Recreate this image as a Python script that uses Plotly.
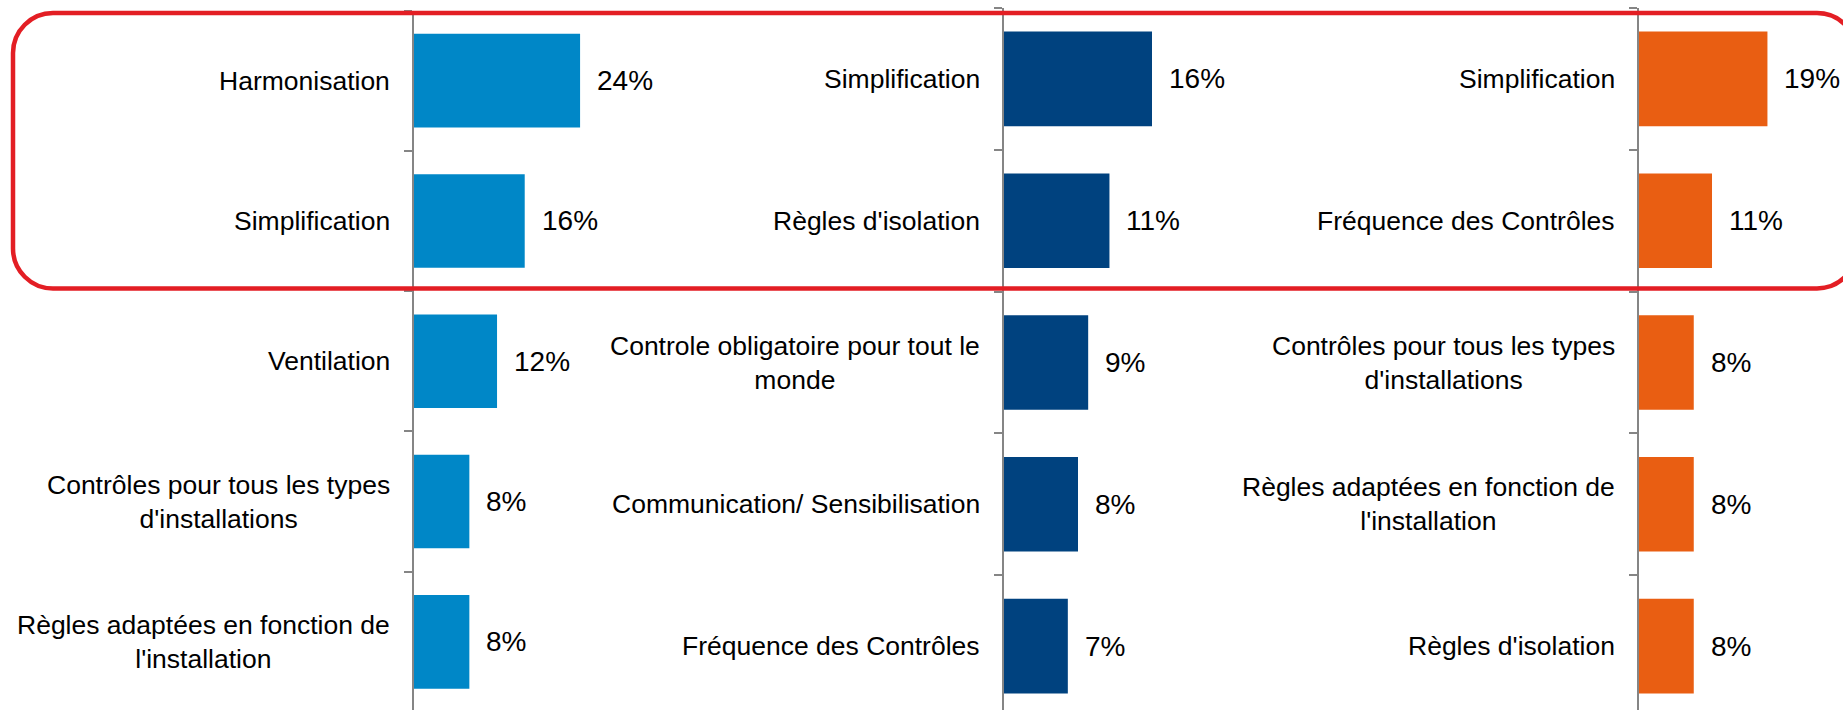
import plotly.graph_objects as go

W, H = 1843, 710

# ---------------- data ----------------
cats1 = ["Harmonisation", "Simplification", "Ventilation",
         "Contrôles pour tous les types<br>d'installations",
         "Règles adaptées en fonction de<br>l'installation"]
vals1 = [24, 16, 12, 8, 8]

cats2 = ["Simplification", "Règles d'isolation",
         "Controle obligatoire pour tout le<br>monde",
         "Communication/ Sensibilisation", "Fréquence des Contrôles"]
vals2 = [16.0, 11.4, 9.1, 8.0, 6.9]

cats3 = ["Simplification", "Fréquence des Contrôles",
         "Contrôles pour tous les types<br>d'installations",
         "Règles adaptées en fonction de<br>l'installation",
         "Règles d'isolation"]
vals3 = [19.0, 10.8, 8.1, 8.1, 8.1]

colors = ["#0087C7", "#00427F", "#E95E12"]

# ---------------- layout geometry (pixels) ----------------
# zero-line x, px per unit, right edge of domain, top of axis, band height
panels = [
    dict(cats=cats1, vals=vals1, color=colors[0], x0=414, scale=6.92, right=700, top=10.5, band=140.3),
    dict(cats=cats2, vals=vals2, color=colors[1], x0=1004, scale=9.25, right=1300, top=8.0, band=141.8),
    dict(cats=cats3, vals=vals3, color=colors[2], x0=1639, scale=6.76, right=1843, top=8.0, band=141.8),
]

FONT = "Liberation Sans, Arial, sans-serif"
GRAY = "#858585"

fig = go.Figure()
annotations = []
for i, p in enumerate(panels, start=1):
    xa = "x" if i == 1 else f"x{i}"
    ya = "y" if i == 1 else f"y{i}"
    fig.add_trace(go.Bar(
        x=p["vals"], y=p["cats"], orientation="h", width=0.667,
        marker=dict(color=p["color"], line=dict(width=0)),
        xaxis=xa, yaxis=ya, hoverinfo="skip", showlegend=False,
    ))
    xkey = "xaxis" if i == 1 else f"xaxis{i}"
    ykey = "yaxis" if i == 1 else f"yaxis{i}"
    vis = (H - p["top"]) / p["band"]
    fig.update_layout(**{
        xkey: dict(domain=[p["x0"] / W, p["right"] / W],
                   range=[0, (p["right"] - p["x0"]) / p["scale"]],
                   visible=False, anchor=ya, fixedrange=True),
        ykey: dict(domain=[0, 1 - p["top"] / H], anchor=xa,
                   type="category", categoryorder="array", categoryarray=p["cats"],
                   range=[-0.5 + vis, -0.5],
                   showline=True, linecolor=GRAY, linewidth=1.6,
                   ticks="outside", tickson="boundaries", ticklen=8,
                   tickcolor=GRAY, tickwidth=1.6,
                   showticklabels=False, showgrid=False, zeroline=False,
                   fixedrange=True),
    })
    for c, v in zip(p["cats"], p["vals"]):
        annotations.append(dict(
            x=0, xref=f"{xa} domain", y=c, yref=ya, text=c,
            xanchor="right", yanchor="middle", align="center", xshift=-22,
            showarrow=False, font=dict(family=FONT, size=26.5, color="#000000")))
        annotations.append(dict(
            x=v, xref=xa, y=c, yref=ya, text=f"{round(v)}%",
            xanchor="left", yanchor="middle", xshift=15,
            showarrow=False, font=dict(family=FONT, size=28, color="#000000")))

# red rounded highlight box (pixel geometry -> paper coords)
L, R, T, B, r = 13, 1857, 13, 288.5, 40
def px(x):
    return x / W
def py(y):
    return 1 - y / H
k = 0.552
path = (
    f"M {px(L + r)},{py(T)} L {px(R - r)},{py(T)} "
    f"C {px(R - r + k * r)},{py(T)} {px(R)},{py(T + r - k * r)} {px(R)},{py(T + r)} "
    f"L {px(R)},{py(B - r)} "
    f"C {px(R)},{py(B - r + k * r)} {px(R - r + k * r)},{py(B)} {px(R - r)},{py(B)} "
    f"L {px(L + r)},{py(B)} "
    f"C {px(L + r - k * r)},{py(B)} {px(L)},{py(B - r + k * r)} {px(L)},{py(B - r)} "
    f"L {px(L)},{py(T + r)} "
    f"C {px(L)},{py(T + r - k * r)} {px(L + r - k * r)},{py(T)} {px(L + r)},{py(T)} Z"
)

fig.update_layout(
    width=W, height=H, margin=dict(l=0, r=0, t=0, b=0),
    paper_bgcolor="white", plot_bgcolor="white",
    annotations=annotations,
    shapes=[dict(type="path", path=path, xref="paper", yref="paper",
                 line=dict(color="#E31E24", width=4.5), layer="above")],
    bargap=0.333,
)

fig.write_html("out.html", config={"displayModeBar": False},
               post_script="document.body.style.margin='0';")
